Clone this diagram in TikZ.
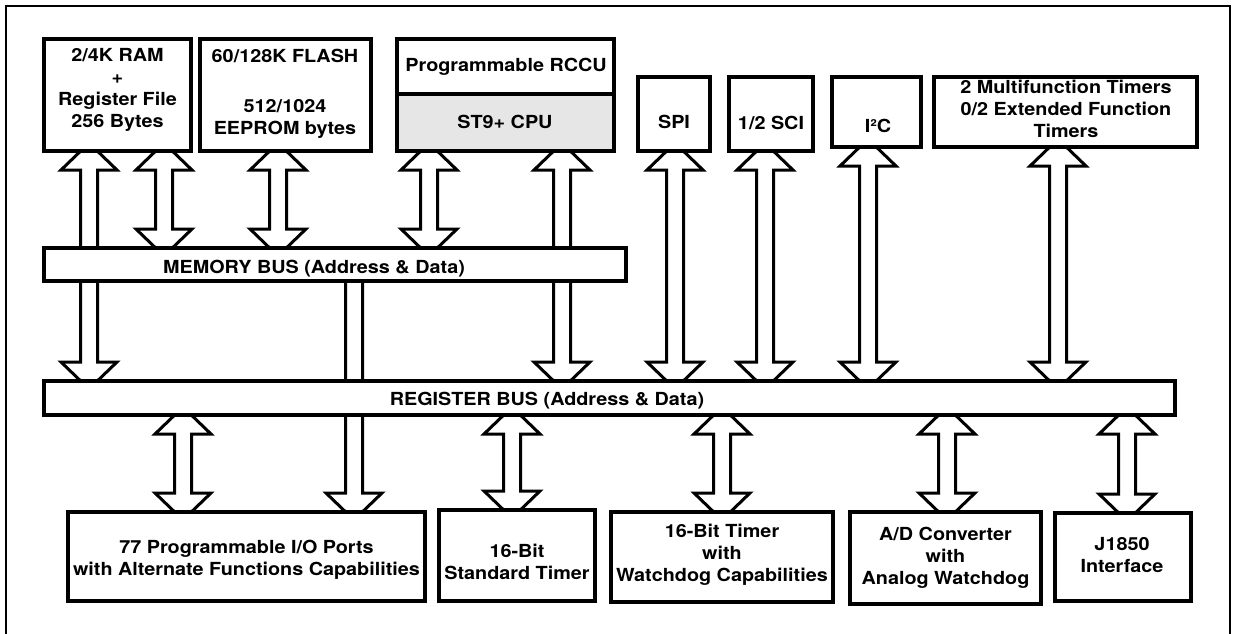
\documentclass[tikz,border=0pt]{standalone}
\usepackage{fontspec}
\setmainfont{TeX Gyre Heros}[FakeStretch=1.1]
\usetikzlibrary{calc,backgrounds}
\definecolor{cpugray}{RGB}{230,230,230}
\newcommand\tlines[1]{\begin{tabular}[t]{@{}c@{}}#1\end{tabular}}
\newcommand\bx[6][]{\node[box, minimum width={#5pt-#3pt}, minimum height={#6pt-#4pt}, #1] (#2) at (#3,#4) {};}
% double hollow arrow between the bottom of #2 and the top of #3 at x=#1
\newcommand\darrow[3]{%
  \coordinate (aT) at ($(#1,0 |- #2.south)+(0,-8)$);
  \coordinate (aB) at ($(#1,0 |- #3.north)+(0,8)$);
  \draw[fat] (aT) -- ++(28,27) -- ++(-19.5,0) -- ($(aB)+(8.5,-27)$) -- ++(19.5,0) -- (aB)
    -- ++(-28,-27) -- ++(19.5,0) -- ($(aT)+(-8.5,27)$) -- ++(-19.5,0) -- cycle;}
% single hollow arrow from inside #2 down to the top of #3 at x=#1
\newcommand\sarrow[3]{%
  \coordinate (aT) at (#1,0 |- #2.center);
  \coordinate (aB) at ($(#1,0 |- #3.north)+(0,8)$);
  \draw[fat] ($(aT)+(-8.5,0)$) -- ($(aT)+(8.5,0)$) -- ($(aB)+(8.5,-27)$) -- ++(19.5,0) -- (aB)
    -- ++(-28,-27) -- ++(19.5,0) -- cycle;}
\begin{document}
\begin{tikzpicture}[x=1pt,y=-1pt,
  box/.style={draw, line width=3.8pt, fill=white, inner sep=0pt, outer sep=0pt, anchor=north west},
  fat/.style={draw, line width=3pt, fill=white, line join=miter},
  txt/.style={anchor=base, inner sep=0pt, font=\fontsize{18}{22}\selectfont\bfseries},
  frameline/.style={line width=2pt}]
\useasboundingbox (0,0) rectangle (1236,633);
\draw[frameline] (6,645) -- (6,5.5) -- (1230,5.5) -- (1230,645);

% top row
\bx{ram}{44}{39}{191}{151}
\bx{flash}{200}{39}{371}{151}
\bx{rccu}{397}{39}{614}{94}
\bx[fill=cpugray]{cpu}{397}{94}{614}{151}
\bx{spi}{638}{77}{710}{151}
\bx{sci}{729}{77}{813}{151}
\bx{iic}{832}{77}{921}{147}
\bx{tim}{934}{77}{1197}{147}

% buses
\bx{membus}{44}{248}{626}{281}
\bx{regbus}{44}{381}{1175}{415}

% bottom row
\bx{ports}{68}{512}{425}{601}
\bx{stdt}{439}{510}{595}{601}
\bx{wdt}{611}{512}{833}{602}
\bx{adc}{850}{512}{1041}{604}
\bx{jif}{1055}{513}{1191}{601}

% texts
\node[txt] (tram) at (117.5,61) {\tlines{2/4K RAM\\+\\Register File\\256 Bytes}};
\node[txt] (tflash) at (285,62) {\tlines{60/128K FLASH\\[28pt]512/1024\\EEPROM bytes}};
\node[txt] (trccu) at (506,71) {Programmable RCCU};
\node[txt] (tcpu) at (505,128) {ST9+ CPU};
\node[txt] (tspi) at (674,128) {SPI};
\node[txt] (tsci) at (771,129) {1/2 SCI};
\node[txt] (tiic) at (878,132) {I²C};
\node[txt] (ttim) at (1066,93) {\tlines{2 Multifunction Timers\\0/2 Extended Function\\Timers}};
\node[txt] (tmem) at (314,273) {MEMORY BUS (Address \& Data)};
\node[txt] (treg) at (547,405) {REGISTER BUS (Address \& Data)};
\node[txt] (tports) at (246.5,553) {\tlines{77 Programmable I/O Ports\\with Alternate Functions Capabilities}};
\node[txt] (tstdt) at (517,557) {\tlines{16-Bit\\Standard Timer}};
\node[txt] (twdt) at (722,537) {\tlines{16-Bit Timer\\with\\Watchdog Capabilities}};
\node[txt] (tadc) at (945.5,540) {\tlines{A/D Converter\\with\\Analog Watchdog}};
\node[txt] (tjif) at (1122,550) {\tlines{J1850\\Interface}};

% connectors
\begin{scope}[on background layer]
\darrow{89}{ram}{regbus}
\darrow{164}{ram}{membus}
\darrow{278}{flash}{membus}
\darrow{429}{cpu}{membus}
\darrow{562}{cpu}{regbus}
\darrow{675}{spi}{regbus}
\darrow{765}{sci}{regbus}
\darrow{868}{iic}{regbus}
\darrow{1058}{tim}{regbus}
\sarrow{354}{membus}{ports}
\darrow{183}{regbus}{ports}
\darrow{512}{regbus}{stdt}
\darrow{722}{regbus}{wdt}
\darrow{947}{regbus}{adc}
\darrow{1127}{regbus}{jif}
\end{scope}
\end{tikzpicture}
\end{document}
